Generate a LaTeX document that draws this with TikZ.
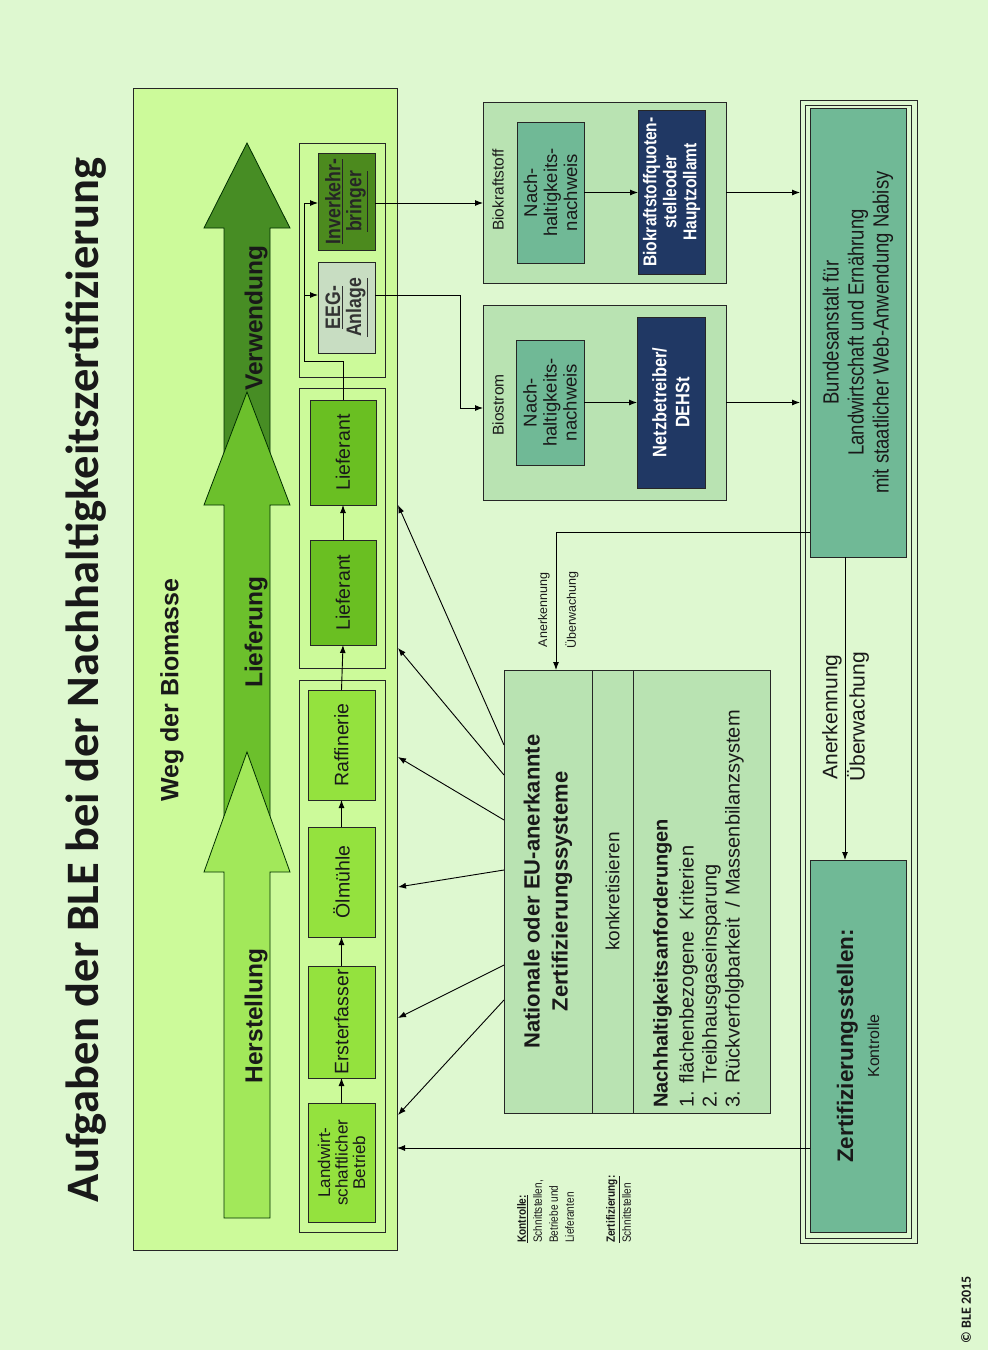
\documentclass[tikz,border=0pt]{standalone}
\usepackage{fontspec}
\setmainfont{Liberation Sans}
\newfontfamily\nar[FakeStretch=0.84]{Liberation Sans}
\newfontfamily\calfont{Carlito}
\usetikzlibrary{arrows.meta}
\definecolor{bgc}{HTML}{DEF8D0}
\definecolor{contc}{HTML}{CCFA9A}
\definecolor{herstc}{HTML}{A2E85A}
\definecolor{liefc}{HTML}{6CC02C}
\definecolor{verwc}{HTML}{478D24}
\definecolor{hboxc}{HTML}{94E23E}
\definecolor{lboxc}{HTML}{6ABF22}
\definecolor{eegc}{HTML}{C8DDC2}
\definecolor{ivbc}{HTML}{4C8A1E}
\definecolor{midc}{HTML}{B9E3B2}
\definecolor{tealc}{HTML}{70B996}
\definecolor{navyc}{HTML}{203864}
\newcommand\mkbox[6]{\node[#6, minimum width={(#4-#2)*1pt}, minimum height={(#5-#3)*1pt}] (#1) at ({(#2+#4)/2},{(#3+#5)/2}) {};}
\tikzset{
  box/.style={draw=black!85, line width=0.9pt, inner sep=0pt, outer sep=0pt},
  arr/.style={-{Latex[length=8pt,width=6pt]}, line width=0.9pt, draw=black},
  ln/.style={line width=0.9pt, draw=black},
  lbl/.style={rotate=90, align=center, text=black!90, inner sep=0pt},
  bigarrow/.style={draw=black!55!green!40!black, line width=0.8pt},
}
\begin{document}
\begin{tikzpicture}[x=1pt,y=-1pt]
\fill[bgc] (0,0) rectangle (988,1350);
\useasboundingbox (0,0) rectangle (988,1350);

% title
\node[lbl, font=\calfont\bfseries\fontsize{46.5}{52}\selectfont] (title) at (86,680) {Aufgaben der BLE bei der Nachhaltigkeitszertifizierung};

% container
\mkbox{weg}{133}{88}{397}{1250}{box, fill=contc}
\node[lbl, font=\bfseries\fontsize{25}{29}\selectfont] (wegt) at (172,690) {Weg der Biomasse};

% big arrows
\draw[bigarrow, fill=verwc] (224,505) -- (224,228) -- (204,228) -- (247,143) -- (290,228) -- (270,228) -- (270,505) -- cycle;
\draw[bigarrow, fill=liefc] (224,872) -- (224,505) -- (204,505) -- (247,392) -- (290,505) -- (270,505) -- (270,872) -- cycle;
\draw[bigarrow, fill=herstc] (224,1218) -- (224,872) -- (204,872) -- (247,752) -- (290,872) -- (270,872) -- (270,1218) -- cycle;
\node[lbl, font=\bfseries\fontsize{24.5}{28}\selectfont] (ht) at (256,1016) {Herstellung};
\node[lbl, font=\bfseries\fontsize{24.5}{28}\selectfont] (lt) at (256,632) {Lieferung};
\node[lbl, font=\bfseries\fontsize{24.5}{28}\selectfont] (vt) at (256,318) {Verwendung};

% groups
\mkbox{g1}{299}{680}{385}{1232}{box, fill=contc}
\mkbox{g2}{299}{388}{385}{668}{box, fill=contc}
\mkbox{g3}{299}{143}{385}{377}{box, fill=contc}

% process boxes
\mkbox{lwb}{308}{1103}{375}{1222}{box, fill=hboxc}
\mkbox{ers}{308}{966}{375}{1078}{box, fill=hboxc}
\mkbox{oel}{308}{827}{375}{937}{box, fill=hboxc}
\mkbox{raf}{308}{690}{375}{800}{box, fill=hboxc}
\mkbox{lf1}{310}{540}{376}{645}{box, fill=lboxc}
\mkbox{lf2}{310}{400}{376}{505}{box, fill=lboxc}
\mkbox{eeg}{318}{262}{375}{353}{box, fill=eegc}
\mkbox{ivb}{318}{153}{375}{250}{box, fill=ivbc}

\node[lbl, font=\fontsize{17}{17.5}\selectfont] at (lwb.center) {Landwirt-\\schaftlicher\\Betrieb};
\node[lbl, font=\fontsize{19.5}{20}\selectfont] at (ers.center) {Ersterfasser};
\node[lbl, font=\fontsize{19.5}{20}\selectfont] at (oel.center) {Ölmühle};
\node[lbl, font=\fontsize{19.5}{20}\selectfont] at (raf.center) {Raffinerie};
\node[lbl, font=\fontsize{19.5}{20}\selectfont] at (lf1.center) {Lieferant};
\node[lbl, font=\fontsize{19.5}{20}\selectfont] at (lf2.center) {Lieferant};
\node[lbl, font=\nar\bfseries\fontsize{21}{21}\selectfont, text=black!80] at (eeg.center) {\underline{EEG-}\\\underline{Anlage}};
\node[lbl, font=\nar\bfseries\fontsize{21}{21}\selectfont, text=black!85] at (ivb.center) {\underline{Inverkehr-}\\\underline{bringer}};

\draw[arr] (lwb.north) -- (ers.south);
\draw[arr] (ers.north) -- (oel.south);
\draw[arr] (oel.north) -- (raf.south);
\draw[arr] (raf.north) -- (lf1.south);
\draw[arr] (lf1.north) -- (lf2.south);
\coordinate (j1) at (343,361);
\coordinate (j2) at (304,361);
\coordinate (j3) at (304,203);
\coordinate (j4) at (304,295);
\draw[ln] (lf2.north) -- (j1) -- (j2) -- (j3);
\draw[arr] (j3) -- (j3 -| ivb.west);
\draw[arr] (j4) -- (j4 -| eeg.west);

% Biokraftstoff
\mkbox{bks}{483}{102}{726}{283}{box, fill=midc}
\node[lbl, font=\fontsize{15.5}{17}\selectfont] at (498,190) {Biokraftstoff};
\mkbox{nh1}{517}{122}{584}{263}{box, fill=tealc}
\mkbox{bq}{638}{110}{705}{274}{box, fill=navyc}
\node[lbl, font=\fontsize{18.5}{20}\selectfont] at (nh1.center) {Nach-\\haltigkeits-\\nachweis};
\node[lbl, font=\nar\bfseries\fontsize{18.5}{20}\selectfont, text=white] at (bq.center) {Biokraftstoffquoten-\\stelleoder\\Hauptzollamt};
\draw[arr] (nh1.east) -- (nh1.east -| bq.west);

% Biostrom
\mkbox{bst}{483}{305}{726}{500}{box, fill=midc}
\node[lbl, font=\fontsize{15.5}{17}\selectfont] at (498,405) {Biostrom};
\mkbox{nh2}{516}{340}{584}{465}{box, fill=tealc}
\mkbox{nb}{637}{317}{705}{488}{box, fill=navyc}
\node[lbl, font=\fontsize{18.5}{20}\selectfont] at (nh2.center) {Nach-\\haltigkeits-\\nachweis};
\node[lbl, font=\nar\bfseries\fontsize{19.5}{23}\selectfont, text=white] at (nb.center) {Netzbetreiber/\\DEHSt};
\draw[arr] (nh2.east) -- (nh2.east -| nb.west);

% links from Verwendung
\coordinate (i1) at (375,203);
\draw[arr] (i1) -- (i1 -| bks.west);
\coordinate (e1) at (375,295);
\coordinate (e2) at (460,295);
\coordinate (e3) at (460,408);
\draw[arr] (e1) -- (e2) -- (e3) -- (e3 -| bst.west);

% BLE
\mkbox{blo}{800}{100}{917}{1243}{box, fill=bgc}
\mkbox{bli}{805}{105}{911}{1238}{box, fill=bgc}
\mkbox{ble}{810}{108}{906}{557}{box, fill=tealc}
\node[lbl, font=\nar\fontsize{22}{25}\selectfont] at (ble.center) {Bundesanstalt für\\Landwirtschaft und Ernährung\\mit staatlicher Web-Anwendung Nabisy};
\mkbox{zst}{810}{860}{906}{1232}{box, fill=tealc}
\node[lbl, font=\fontsize{22.5}{26}\selectfont] at (zst.center) {\textbf{Zertifizierungsstellen:}\\\fontsize{16}{18}\selectfont Kontrolle};
\draw[arr] (bks.east) -- (bks.east -| blo.west);
\draw[arr] (bst.east) -- (bst.east -| blo.west);
\coordinate (a1) at (845,557);
\draw[arr] (a1) -- (a1 |- zst.north);
\node[lbl, font=\fontsize{21}{22}\selectfont] at (832,717) {Anerkennung};
\node[lbl, font=\fontsize{21}{22}\selectfont] at (858,717) {Überwachung};

% Nationale
\mkbox{nat1}{504}{670}{592}{1113}{box, fill=midc}
\mkbox{nat2}{592}{670}{633}{1113}{box, fill=midc}
\mkbox{nat3}{633}{670}{770}{1113}{box, fill=midc}
\node[lbl, font=\bfseries\fontsize{22}{28}\selectfont] at (nat1.center) {Nationale oder EU-anerkannte\\Zertifizierungssysteme};
\node[lbl, font=\fontsize{19}{20}\selectfont] at (nat2.center) {konkretisieren};
\node[lbl, align=left, anchor=north west, font=\fontsize{20}{23}\selectfont] at (653,1108)
  {\textbf{Nachhaltigkeitsanforderungen}\\[3pt]1. flächenbezogene\ \ Kriterien\\2. Treibhausgaseinsparung\\3. Rückverfolgbarkeit\ \ / Massenbilanzsystem};

% link BLE -> Nationale
\coordinate (b1) at (810,532);
\coordinate (b2) at (556,532);
\draw[arr] (b1) -- (b2) -- (b2 |- nat1.north);
\node[lbl, font=\fontsize{12.5}{14}\selectfont] at (544,610) {Anerkennung};
\node[lbl, font=\fontsize{12.5}{14}\selectfont] at (572,610) {Überwachung};

% fan arrows
\foreach \s/\t [count=\k] in {745/505, 775/648, 820/757, 870/887, 965/1018, 1000/1115}{
  \coordinate (fs\k) at (504,\s);
  \coordinate (ft\k) at (398,\t);
  \draw[arr] (fs\k) -- (ft\k);
}
% Zertifizierungsstellen -> Landwirt
\coordinate (z1) at (810,1148);
\draw[arr] (z1) -- (z1 -| weg.east);

% legend
\node[lbl, align=left, anchor=north west, font=\nar\fontsize{12}{16}\selectfont] at (517,1243)
  {\textbf{\underline{Kontrolle:}}\\Schnittstellen,\\Betriebe und\\Lieferanten\\[25pt]\textbf{\underline{Zertifizierung:}}\\Schnittstellen};

\node[lbl, font=\calfont\bfseries\fontsize{14}{16}\selectfont] at (966,1310) {© BLE 2015};
\end{tikzpicture}
\end{document}
